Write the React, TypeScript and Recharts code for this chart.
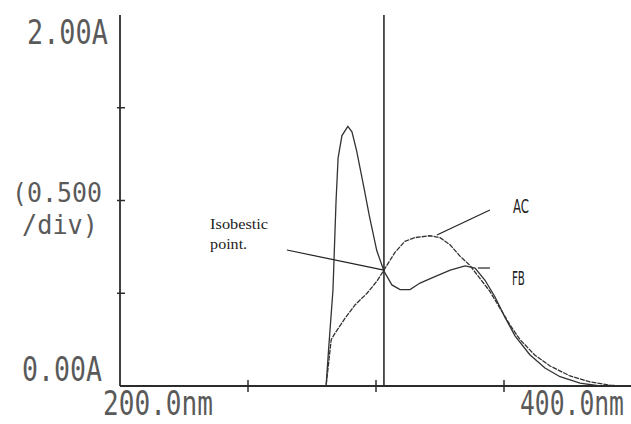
import React from 'react';
import { LineChart, Line, XAxis, YAxis, ReferenceLine, ReferenceDot } from 'recharts';

// spectrum FB (sharp band near 289 nm)
const fbNm = [260, 280.5, 281.5, 283.2, 284.4, 285.2, 286.7, 289, 290.6, 292.4, 295, 297.5, 300.3, 303.1, 306.2, 309.4, 313.3, 317.2, 323, 329, 334.8, 338.7, 342.6, 346.5, 350.4, 354.3, 360, 366, 371.9, 379.7, 387.5, 400];
const fbAbs = [0, 0, 0.2, 0.52, 1.0, 1.23, 1.35, 1.4, 1.37, 1.27, 1.09, 0.91, 0.73, 0.62, 0.545, 0.52, 0.52, 0.555, 0.59, 0.625, 0.647, 0.636, 0.57, 0.48, 0.37, 0.27, 0.17, 0.097, 0.05, 0.016, 0, 0];

// spectrum AC (broad band near 320 nm)
const acNm = [260, 280.5, 282.5, 284, 288, 291.8, 296.5, 300.4, 303.1, 307.4, 311.3, 315.2, 321, 325, 329, 332.8, 336.7, 340.6, 344.5, 348.4, 352.3, 356.25, 362, 368, 375.8, 383.6, 391.4, 395, 400];
const acAbs = [0, 0, 0.25, 0.285, 0.367, 0.437, 0.5, 0.566, 0.625, 0.72, 0.78, 0.8, 0.81, 0.8, 0.76, 0.7, 0.65, 0.58, 0.51, 0.42, 0.33, 0.25, 0.167, 0.108, 0.054, 0.022, 0.005, 0, 0];

const xTicks = [200, 250, 300, 350, 400];
const yTicks = [0, 0.5, 1, 1.5, 2];
const isobesticNm = 303.1;

const fbData = fbNm.map((nm, i) => ({ nm, abs: fbAbs[i] }));
const acData = acNm.map((nm, i) => ({ nm, abs: acAbs[i] }));

const ink = '#2b2b2b';

// condensed monospace text, squeezed horizontally to a given width
const Mono = ({ x, y, w, size = 34, children }: { x: number; y: number; w: number; size?: number; children: string }) => {
  const sx = w / (children.length * 0.602 * size);
  return (
    <text transform={`translate(${x},${y}) scale(${sx.toFixed(3)},1)`} x={0} y={0}
      fontFamily='"DejaVu Sans Mono", monospace' fontSize={size} fill="#5a5a5a">{children}</text>
  );
};

const XTick = (props: any) => {
  const { x, y, payload } = props;
  const v = payload.value;
  if (v === 200) return <Mono x={x - 17} y={y + 29} w={110}>200.0nm</Mono>;
  if (v === 400) return <Mono x={x - 112} y={y + 29} w={104}>400.0nm</Mono>;
  return <line x1={x} x2={x} y1={y - 6} y2={y + 6} stroke={ink} strokeWidth={1.5} />;
};

const YTick = (props: any) => {
  const { x, y, payload } = props;
  const v = payload.value;
  if (v === 2) return <Mono x={x - 93} y={y + 29} w={81}>2.00A</Mono>;
  if (v === 0) return <Mono x={x - 98} y={y - 5} w={80}>0.00A</Mono>;
  return (
    <g>
      <line x1={x - 3} x2={x + 5} y1={y} y2={y} stroke={ink} strokeWidth={1.5} />
      {v === 1 && (
        <>
          <Mono x={x - 108} y={y + 1} w={90} size={27}>(0.500</Mono>
          <Mono x={x - 98} y={y + 33} w={76} size={27}>/div)</Mono>
        </>
      )}
    </g>
  );
};

const textAt = (lines: string[], font: string, size: number, lengths: number[], gap: number) => (p: any) => (
  <text fontFamily={font} fontSize={size} fill="#222">
    {lines.map((t, i) => (
      <tspan key={t} x={p.cx} y={p.cy + i * gap} textLength={lengths[i]} lengthAdjust="spacingAndGlyphs">{t}</tspan>
    ))}
  </text>
);

export default function App() {
  return (
    <div style={{ position: 'absolute', left: 0, top: 0, width: 631, height: 424, overflow: 'hidden', background: '#fff' }}>
      <LineChart width={632} height={424} margin={{ top: 15, right: 0, bottom: 0, left: 0 }}>
        <XAxis dataKey="nm" type="number" domain={[200, 400]} ticks={xTicks} allowDataOverflow
          height={38} tickSize={0} tickMargin={0} tickLine={false} interval={0}
          axisLine={{ stroke: ink, strokeWidth: 1.8 }} tick={<XTick />} />
        <XAxis xAxisId="top" orientation="top" dataKey="nm" type="number" domain={[200, 400]}
          ticks={[250, 300, 350]} height={0} tick={false} tickSize={4}
          axisLine={{ stroke: ink, strokeWidth: 1.8 }} tickLine={{ stroke: ink, strokeWidth: 1.5 }} />
        <YAxis type="number" domain={[0, 2]} ticks={yTicks} width={120} interval={0}
          tickSize={0} tickMargin={0} tickLine={false}
          axisLine={{ stroke: ink, strokeWidth: 1.8 }} tick={<YTick />} />
        <ReferenceLine x={isobesticNm} stroke={ink} strokeWidth={1.6} />
        <Line data={fbData} dataKey="abs" type="linear" dot={false} stroke="#333" strokeWidth={1.3} isAnimationActive={false} />
        <Line data={acData} dataKey="abs" type="linear" dot={false} stroke="#333" strokeWidth={1.3} strokeDasharray="5 1" isAnimationActive={false} />
        <ReferenceLine segment={[{ x: 265.2, y: 0.733 }, { x: isobesticNm, y: 0.625 }]} stroke="#222" strokeWidth={1.2} />
        <ReferenceLine segment={[{ x: 323.8, y: 0.814 }, { x: 344.5, y: 0.949 }]} stroke="#222" strokeWidth={1.2} />
        <ReferenceLine segment={[{ x: 339.8, y: 0.636 }, { x: 344.5, y: 0.636 }]} stroke="#222" strokeWidth={1.2} />
        <ReferenceDot x={235.2} y={0.846} r={0}
          shape={textAt(['Isobestic', 'point.'], '"Liberation Serif", serif', 14, [58, 37], 20)} />
        <ReferenceDot x={353.5} y={0.933} r={0}
          shape={textAt(['AC'], '"DejaVu Sans Condensed", sans-serif', 20, [16], 0)} />
        <ReferenceDot x={353.1} y={0.544} r={0}
          shape={textAt(['FB'], '"DejaVu Sans Condensed", sans-serif', 20, [13], 0)} />
      </LineChart>
    </div>
  );
}
